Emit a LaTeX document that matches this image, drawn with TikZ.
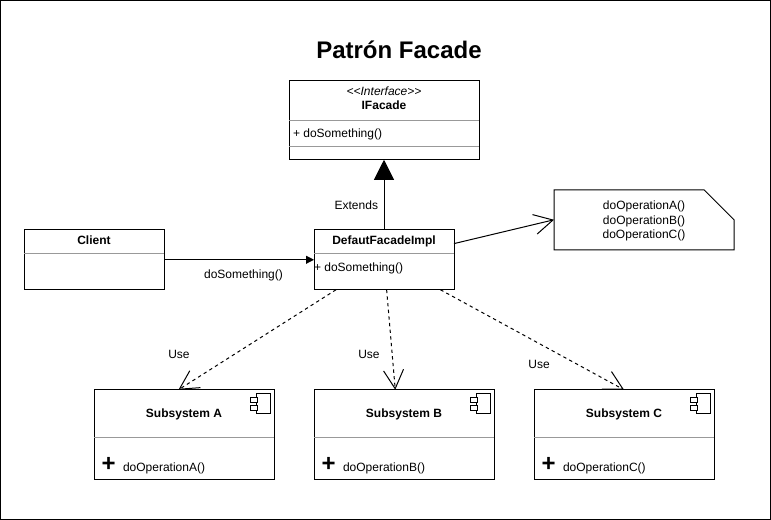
\documentclass[tikz,border=0pt]{standalone}
\usepackage{fontspec}
\setmainfont{Liberation Sans}
\usepackage{xcolor}
\usepackage{tikz}
\usetikzlibrary{arrows.meta, positioning}

\begin{document}
\begin{tikzpicture}[
    every node/.style={font=\fontsize{9}{11}\selectfont, outer sep=0pt},
    box/.style={
        rectangle,
        minimum width=105pt,
        minimum height=45pt,
        line width=0.75pt,
        draw=black
    },
    subsystem/.style={
        box,
        minimum width=135pt,
        minimum height=67.5pt
    },
    notebox/.style={
        rectangle,
        minimum width=135pt,
        minimum height=45pt,
        inner sep=0pt
    },
    lbl/.style={inner sep=0pt, text height=7pt, text depth=2pt},
    divider/.style={line width=0.75pt, draw=black!40},
    extends/.style={line width=0.75pt, -{Triangle[length=15pt,width=15pt]}},
    call/.style={line width=0.75pt, -{Triangle[length=6pt,width=6pt]}},
    openarrow/.style={line width=0.75pt, -{Straight Barb[length=14pt,width=15pt]}},
    uses/.style={openarrow, dash pattern=on 2.5pt off 2.5pt}
]

\useasboundingbox (0,0) rectangle (578.25pt,-390pt);
\draw [line width=0.75pt] (0.4pt,-0.4pt) rectangle (577.8pt,-389.3pt);

\node (title) [font=\bfseries\fontsize{18}{18}\selectfont, inner sep=0pt] at (299.25pt,-37.5pt) {Patrón Facade};

\node (facade) [box, minimum width=142.5pt, minimum height=59.25pt] at (288pt,-90.2pt) {};
\node (impl)   [box, below=52.5pt of facade] {};
\node (client) [box, left=112.5pt of impl] {};
\node (note)   [notebox, right=75pt of impl, yshift=30pt] {};

\node (subB) [subsystem, below=75pt of impl, xshift=15pt] {};
\node (subA) [subsystem, left=30pt of subB] {};
\node (subC) [subsystem, right=30pt of subB] {};

\draw [line width=0.75pt] (note.north west) -- ([xshift=-22.5pt]note.north east) -- ([yshift=-22.5pt]note.north east) -- (note.south east) -- (note.south west) -- cycle;
\node (noteText) [inner sep=0pt, align=center] at ([yshift=-1pt]note.center) {doOperationA()\\doOperationB()\\doOperationC()};

% class texts
\node (facadeType) [lbl, below=3.75pt of facade.north] {\textit{{<}{<}Interface{>}{>}}};
\node (facadeName) [lbl, font=\bfseries\fontsize{9}{11}\selectfont, below=14.25pt of facade.north] {IFacade};
\node (facadeOp)   [lbl, anchor=west] at ([xshift=3pt,yshift=-39.75pt]facade.north west) {+ doSomething()};
\node (clientName) [lbl, font=\bfseries\fontsize{9}{11}\selectfont, below=3.9pt of client.north] {Client};
\node (implName)   [lbl, font=\bfseries\fontsize{9}{11}\selectfont, below=3.9pt of impl.north] {DefautFacadeImpl};
\node (implOp)     [lbl, anchor=west] at ([xshift=0pt,yshift=-28.5pt]impl.north west) {+ doSomething()};

% dividers
\draw [divider] ([yshift=-29.6pt]facade.north west) -- ([yshift=-29.6pt]facade.north east);
\draw [divider] ([yshift=-49.5pt]facade.north west) -- ([yshift=-49.5pt]facade.north east);
\draw [divider] ([yshift=-18pt]client.north west) -- ([yshift=-18pt]client.north east);
\draw [divider] ([yshift=-18pt]impl.north west) -- ([yshift=-18pt]impl.north east);

% subsystems
\foreach \sub/\letter in {subA/A, subB/B, subC/C} {
    \node (\sub Name) [lbl, font=\bfseries\fontsize{9}{11}\selectfont, below=13.65pt of \sub.north] {Subsystem \letter};
    \node (\sub Op)   [lbl, anchor=west] at ([xshift=21.75pt,yshift=8.5pt]\sub.south west) {doOperation\letter()};
    \node (\sub Sign) [inner sep=0pt, font=\bfseries\fontsize{18}{18}\selectfont] at ([xshift=11pt,yshift=11.2pt]\sub.south west) {+};
    \draw [divider] ([yshift=-35.6pt]\sub.north west) -- ([yshift=-35.6pt]\sub.north east);
    \draw [line width=0.75pt] ([xshift=-13.5pt,yshift=-3pt]\sub.north east) rectangle ([xshift=-3pt,yshift=-18pt]\sub.north east);
    \draw [line width=0.75pt, fill=white] ([xshift=-18pt,yshift=-6pt]\sub.north east) rectangle ([xshift=-12.75pt,yshift=-9.75pt]\sub.north east);
    \draw [line width=0.75pt, fill=white] ([xshift=-18pt,yshift=-12pt]\sub.north east) rectangle ([xshift=-12.75pt,yshift=-15.75pt]\sub.north east);
}

% connectors
\draw [extends] (impl) -- node (extendsLbl) [lbl, left=4.5pt, pos=0.34] {Extends} (facade);
\draw [call] (client) -- node (callLbl) [lbl, below=6.75pt, pos=0.53] {doSomething()} (impl);
\draw [openarrow] (impl.13) -- (note.west);

\draw [uses] (impl.212) -- (subA.97.6);
\draw [uses] (impl.275.7) -- (subB.101.3);
\draw [uses] (impl.332.7) -- (subC.north);

\node (useA) [lbl, above=21.6pt of subA.north, xshift=-3.75pt] {Use};
\node (useB) [lbl, above=21.6pt of subB.north, xshift=-26.25pt] {Use};
\node (useC) [lbl, above=14.1pt of subC.north, xshift=-63.75pt] {Use};

\end{tikzpicture}
\end{document}
